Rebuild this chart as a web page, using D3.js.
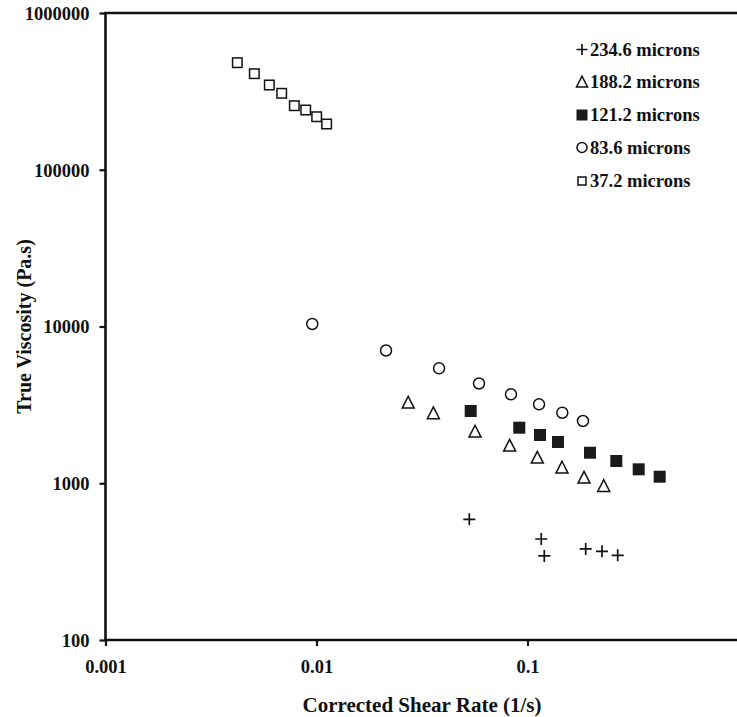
<!DOCTYPE html>
<html>
<head>
<meta charset="utf-8">
<script src="https://cdn.jsdelivr.net/npm/d3@7"></script>
<style>
  html, body { margin: 0; padding: 0; background: #fff; }
  text { font-family: "Liberation Serif", "Times New Roman", serif; font-weight: bold; fill: #111; }
</style>
</head>
<body>
<svg id="chart" width="737" height="717"></svg>
<script>
// ---- Data ----
const xTicks = [0.001, 0.01, 0.1];
const xTickLabels = ["0.001", "0.01", "0.1"];
const yTicks = [100, 1000, 10000, 100000, 1000000];
const yTickLabels = ["100", "1000", "10000", "100000", "1000000"];

const seriesNames = ["234.6 microns", "188.2 microns", "121.2 microns", "83.6 microns", "37.2 microns"];
const seriesSymbols = ["cross", "triangle", "filledSquare", "circle", "openSquare"];

const s234x = [0.0530, 0.1162, 0.1201, 0.1887, 0.2254, 0.2676];
const s234y = [589, 441, 344, 381, 368, 347];

const s188x = [0.0272, 0.0358, 0.0564, 0.0823, 0.1113, 0.1457, 0.1853, 0.2297];
const s188y = [3265, 2794, 2133, 1736, 1455, 1257, 1085, 960];

const s121x = [0.0538, 0.0914, 0.1146, 0.1395, 0.1978, 0.2636, 0.3365, 0.4231];
const s121y = [2890, 2261, 2032, 1833, 1566, 1387, 1227, 1101];

const s84x = [0.00955, 0.02136, 0.0381, 0.0589, 0.0835, 0.1134, 0.1462, 0.1832];
const s84y = [10380, 7030, 5412, 4329, 3694, 3189, 2818, 2495];

const s37x = [0.004214, 0.005073, 0.005975, 0.00684, 0.00785, 0.00889, 0.01002, 0.01117];
const s37y = [481900, 410000, 347300, 307400, 256200, 240500, 217900, 195800];

const seriesX = [s234x, s188x, s121x, s84x, s37x];
const seriesY = [s234y, s188y, s121y, s84y, s37y];

// ---- Layout ----
const svg = d3.select("#chart");
const pLeft = 105.5, pRight = 738.5, pTop = 13, pBottom = 640;

const x = d3.scaleLog().domain([0.001, 1]).range([pLeft, pRight]);
const y = d3.scaleLog().domain([100, 1000000]).range([pBottom, pTop]);

const ink = "#111";

function drawSymbol(g, type, size) {
  const h = size / 2;
  if (type === "cross") {
    g.append("path").attr("d", `M${-h},0H${h}M0,${-h}V${h}`)
      .attr("stroke", ink).attr("stroke-width", 1.7).attr("fill", "none");
  } else if (type === "triangle") {
    const th = size * 0.9;
    g.append("path").attr("d", `M0,${-th/2 - 1}L${h},${th/2}L${-h},${th/2}Z`)
      .attr("stroke", ink).attr("stroke-width", 1.5).attr("fill", "#fff");
  } else if (type === "filledSquare") {
    g.append("rect").attr("x", -h).attr("y", -h).attr("width", size).attr("height", size)
      .attr("fill", "#1a1a1a");
  } else if (type === "circle") {
    g.append("circle").attr("r", h - 0.5)
      .attr("stroke", ink).attr("stroke-width", 1.5).attr("fill", "#fff");
  } else if (type === "openSquare") {
    g.append("rect").attr("x", -h + 0.5).attr("y", -h + 0.5).attr("width", size - 1).attr("height", size - 1)
      .attr("stroke", ink).attr("stroke-width", 1.5).attr("fill", "#fff");
  }
}

const markerSizes = [12, 12, 12, 12, 10.5];

seriesX.forEach((xs, si) => {
  const pts = xs.map((v, i) => [v, seriesY[si][i]]);
  const grp = svg.append("g").attr("class", "series-" + si);
  pts.forEach(p => {
    const g = grp.append("g").attr("transform", `translate(${x(p[0])},${y(p[1])})`);
    drawSymbol(g, seriesSymbols[si], markerSizes[si]);
  });
});

// Axes
const xAxis = d3.axisBottom(x).tickValues(xTicks)
  .tickFormat((d, i) => xTickLabels[i]).tickSize(6).tickPadding(14);
const gx = svg.append("g").attr("transform", `translate(0,${pBottom})`).call(xAxis);
gx.select(".domain").remove();
gx.selectAll(".tick line").attr("stroke", ink).attr("stroke-width", 2.2);
gx.selectAll(".tick text").style("font-size", "18.5px").attr("fill", ink);

const yAxis = d3.axisLeft(y).tickValues(yTicks)
  .tickFormat((d, i) => yTickLabels[i]).tickSize(6).tickPadding(10);
const gy = svg.append("g").attr("transform", `translate(${pLeft},0)`).call(yAxis);
gy.select(".domain").remove();
gy.selectAll(".tick line").attr("stroke", ink).attr("stroke-width", 2.2);
gy.selectAll(".tick text").style("font-size", "18.5px").attr("fill", ink).attr("dy", "0.35em");

// Frame lines
svg.append("line").attr("x1", pLeft).attr("x2", pLeft).attr("y1", pTop - 1).attr("y2", pBottom + 1)
  .attr("stroke", ink).attr("stroke-width", 2.6);
svg.append("line").attr("x1", pLeft - 1).attr("x2", pRight).attr("y1", pBottom).attr("y2", pBottom)
  .attr("stroke", ink).attr("stroke-width", 2.6);
svg.append("line").attr("x1", pLeft - 1).attr("x2", pRight).attr("y1", pTop).attr("y2", pTop)
  .attr("stroke", ink).attr("stroke-width", 2.4);

// Axis titles
svg.append("text").attr("x", (pLeft + pRight) / 2).attr("y", 712)
  .attr("text-anchor", "middle").style("font-size", "21px")
  .text("Corrected Shear Rate (1/s)");
svg.append("text").attr("transform", `translate(31,${(pTop + pBottom) / 2}) rotate(-90)`)
  .attr("text-anchor", "middle").style("font-size", "20px")
  .text("True Viscosity (Pa.s)");

// Legend
const legendY = [49.5, 82, 115, 147.5, 181];
const legend = svg.append("g");
seriesNames.forEach((name, i) => {
  const g = legend.append("g").attr("transform", `translate(582,${legendY[i]})`);
  const sg = g.append("g");
  drawSymbol(sg, seriesSymbols[i], seriesSymbols[i] === "openSquare" ? 9 : 11);
  g.append("text").attr("x", 8).attr("y", 0).attr("dy", "0.35em")
    .style("font-size", "18.5px").text(name);
});
</script>
</body>
</html>
